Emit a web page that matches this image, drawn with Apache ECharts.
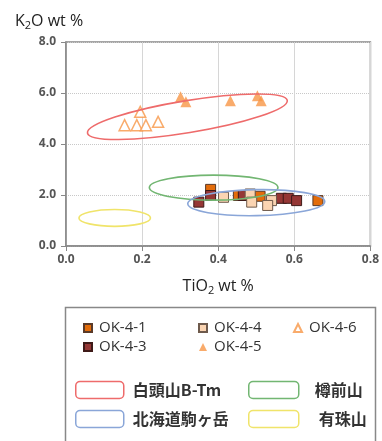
<!DOCTYPE html>
<html><head><meta charset="utf-8">
<script src="https://cdn.jsdelivr.net/npm/echarts@6/dist/echarts.min.js"></script>
<style>html,body{margin:0;padding:0;background:#fff}#c{width:382px;height:441px}</style>
</head><body><div id="c"></div>
<script>
// ---- data ----
const xTicks = [0, 0.2, 0.4, 0.6, 0.8];
const yTicks = [0, 2, 4, 6, 8];
const ok41 = [[0.380,2.22],[0.453,1.98],[0.510,1.95],[0.662,1.78]];
const ok43 = [[0.349,1.72],[0.380,1.98],[0.466,1.98],[0.566,1.87],[0.584,1.87],[0.606,1.78]];
const ok44 = [[0.414,1.91],[0.484,2.04],[0.488,1.72],[0.540,1.78],[0.530,1.59]];
const ok45 = [[0.301,5.85],[0.315,5.66],[0.432,5.70],[0.503,5.89],[0.513,5.70]];
const ok46 = [[0.195,5.26],[0.154,4.74],[0.186,4.74],[0.210,4.74],[0.242,4.87]];
// ellipses: [centre TiO2, centre K2O, semi-axis (TiO2 units), semi-axis (K2O units), rotation deg]
const ellBTm       = [0.319, 5.07, 0.266, 0.63, 9.3];
const ellTarumae   = [0.388, 2.29, 0.169, 0.49, 0];
const ellKomagatake= [0.500, 1.70, 0.180, 0.51, 1];
const ellUsu       = [0.128, 1.10, 0.094, 0.33, 0];

const LAT = '"Open Sans","Noto Sans CJK JP",sans-serif';
const CJK = '"Noto Sans CJK JP","Open Sans",sans-serif';

function renderEllipse(params, api) {
  const c = api.coord([api.value(0), api.value(1)]);
  const rx = api.size([api.value(2), 0])[0];
  const ry = api.size([0, api.value(3)])[1];
  return {
    type: 'ellipse', x: c[0], y: c[1], rotation: api.value(4) * Math.PI / 180,
    shape: { cx: 0, cy: 0, rx: rx, ry: ry },
    style: { fill: 'none', stroke: api.visual('color'), lineWidth: 1.6 }
  };
}
function ellSeries(name, arr, color) {
  return { name: name, type: 'custom', coordinateSystem: 'cartesian2d', renderItem: renderEllipse,
    itemStyle: { color: color }, encode: { x: 0, y: 1 }, data: [arr], z: 5, silent: true };
}
function sq(name, data, fill, border) {
  return { name: name, type: 'scatter', data: data, symbol: 'rect', symbolSize: 10,
    itemStyle: { color: fill, borderColor: border, borderWidth: 1, opacity: 1 }, z: 3 };
}
const ellColors = { '白頭山B-Tm': '#EE6B6B', '樽前山': '#72B672', '北海道駒ヶ岳': '#8AA6D8', '有珠山': '#F0E46A' };

const legText = { fontFamily: LAT, fontSize: 15, color: '#333', lineHeight: 16, padding: [0,0,0,2] };
function scatLegend(left, names) {
  return { orient: 'vertical', left: left, top: 315, itemWidth: 8, itemHeight: 8, itemGap: 3,
    data: names, textStyle: legText, selectedMode: false };
}
function ellLegendItem(name, pad) {
  return { name: name, icon: 'roundRect',
    itemStyle: { color: '#fff', borderColor: ellColors[name], borderWidth: 1.5 },
    textStyle: { padding: [0,0,0,pad] } };
}
const ellText = { fontFamily: CJK, fontSize: 16, fontWeight: 'bold', color: '#333', lineHeight: 20 };
const nameRich = {
  a: { fontFamily: LAT, fontSize: 16, fontWeight: 'normal', color: '#222', lineHeight: 20 },
  s: { fontFamily: LAT, fontSize: 11, fontWeight: 'normal', color: '#222', lineHeight: 11, verticalAlign: 'bottom' }
};

const chart = echarts.init(document.getElementById('c'));
chart.setOption({
  backgroundColor: '#fff',
  animation: false,
  title: {
    text: '{a|K}{s|2}{a|O wt %}', left: 10, top: 6,
    textStyle: { fontWeight: 'normal', rich: nameRich }
  },
  grid: { left: 66, right: 9, top: 42, bottom: 195, show: true, borderColor: '#888', borderWidth: 1.5, backgroundColor: 'transparent' },
  xAxis: {
    type: 'value', min: xTicks[0], max: xTicks[xTicks.length-1], interval: xTicks[1]-xTicks[0],
    name: '{a|TiO}{s|2}{a| wt %}', nameLocation: 'middle', nameGap: 30,
    nameTextStyle: { rich: nameRich },
    axisLine: { lineStyle: { color: '#888', width: 1.5 } },
    axisTick: { show: true, length: 5, lineStyle: { color: '#888' } },
    axisLabel: { formatter: v => v.toFixed(1), fontFamily: LAT, fontSize: 12, fontWeight: 'bold', color: '#555', margin: 8 },
    splitLine: { show: true, lineStyle: { color: '#d6d6d6', width: 1 } }
  },
  yAxis: {
    type: 'value', min: yTicks[0], max: yTicks[yTicks.length-1], interval: yTicks[1]-yTicks[0],
    axisLine: { show: true, lineStyle: { color: '#888', width: 1.5 } },
    axisTick: { show: true, length: 5, lineStyle: { color: '#888' } },
    axisLabel: { formatter: v => v.toFixed(1), fontFamily: LAT, fontSize: 12, fontWeight: 'bold', color: '#555', margin: 10 },
    splitLine: { show: true, lineStyle: { color: '#c8c8c8', width: 1, type: 'dotted' } }
  },
  legend: [
    scatLegend(78, ['OK-4-1', 'OK-4-3']),
    scatLegend(193, ['OK-4-4', 'OK-4-5']),
    scatLegend(288, ['OK-4-6']),
    { orient: 'vertical', left: 70, top: 375, itemWidth: 48, itemHeight: 17, itemGap: 9, selectedMode: false,
      data: [ellLegendItem('白頭山B-Tm', 4), ellLegendItem('北海道駒ヶ岳', 4)], textStyle: ellText },
    { orient: 'vertical', left: 243, top: 375, itemWidth: 50, itemHeight: 17, itemGap: 9, selectedMode: false,
      data: [ellLegendItem('樽前山', 11), ellLegendItem('有珠山', 15)], textStyle: ellText }
  ],
  graphic: [
    { type: 'rect', left: 63, top: 305, shape: { width: 310, height: 145 },
      style: { fill: 'none', stroke: '#888', lineWidth: 1.5 }, z: -1 }
  ],
  series: [
    sq('OK-4-1', ok41, '#E36C0A', '#5a3a28'),
    sq('OK-4-3', ok43, '#953735', '#3e1a18'),
    sq('OK-4-4', ok44, '#FAD4B2', '#6e5a4c'),
    { name: 'OK-4-5', type: 'scatter', data: ok45, symbol: 'triangle', symbolSize: 11,
      itemStyle: { color: '#F79646' }, z: 3 },
    { name: 'OK-4-6', type: 'scatter', data: ok46, symbol: 'triangle', symbolSize: 11,
      itemStyle: { color: '#fff', borderColor: '#F79646', borderWidth: 1.5 }, z: 3 },
    ellSeries('白頭山B-Tm', ellBTm, ellColors['白頭山B-Tm']),
    ellSeries('樽前山', ellTarumae, ellColors['樽前山']),
    ellSeries('北海道駒ヶ岳', ellKomagatake, ellColors['北海道駒ヶ岳']),
    ellSeries('有珠山', ellUsu, ellColors['有珠山'])
  ]
});
</script></body></html>
